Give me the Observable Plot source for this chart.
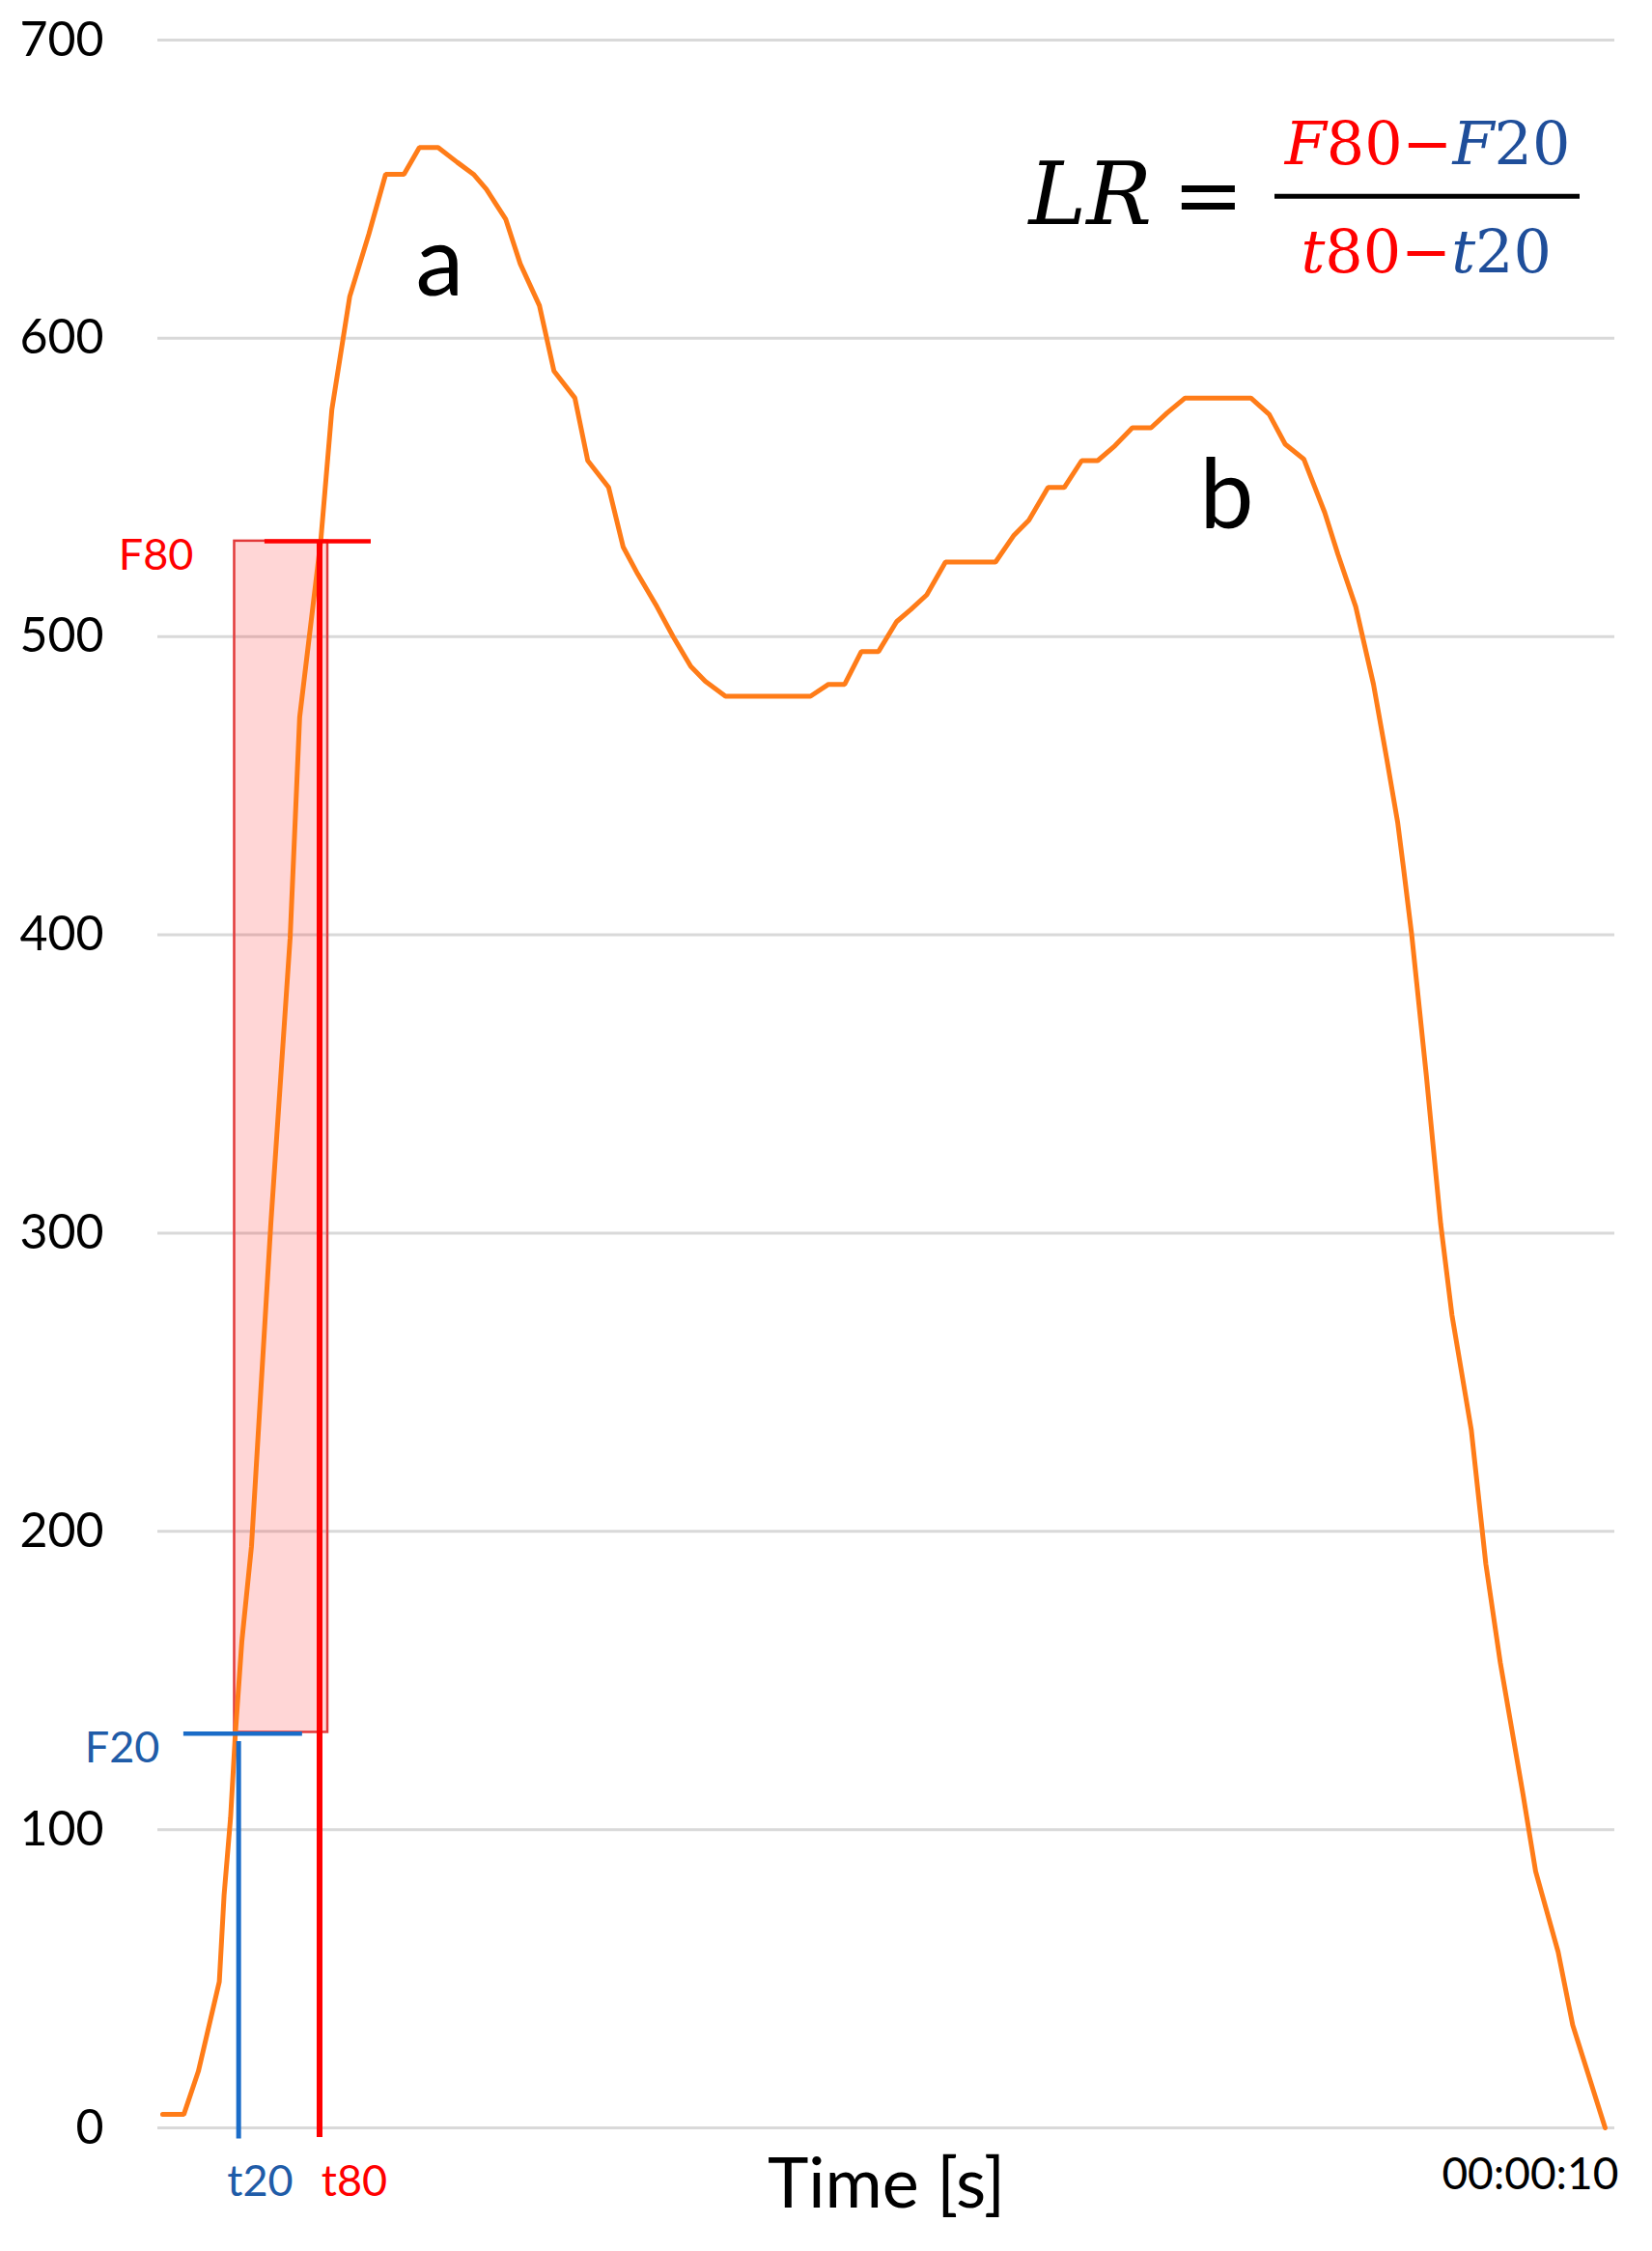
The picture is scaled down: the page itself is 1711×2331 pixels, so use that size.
<!DOCTYPE html>
<html>
<head>
<meta charset="utf-8">
<script src="https://cdn.jsdelivr.net/npm/d3@7"></script>
<script src="https://cdn.jsdelivr.net/npm/@observablehq/plot@0.6"></script>
<style>
  html, body { margin: 0; padding: 0; background: #fff; }
  #chart svg { display: block; }
</style>
</head>
<body>
<div id="chart"></div>
<script>
// ---- data (time in s, force) ----
const time = [0, 0.147, 0.248, 0.393, 0.426, 0.471, 0.504, 0.549, 0.616, 0.750, 0.884, 0.950, 1.096, 1.173, 1.297, 1.430, 1.546, 1.673, 1.780, 1.910, 2.043, 2.155, 2.244, 2.378, 2.479, 2.612, 2.713, 2.858, 2.947, 3.092, 3.193, 3.293, 3.427, 3.539, 3.661, 3.762, 3.902, 4.491, 4.616, 4.728, 4.844, 4.963, 5.088, 5.185, 5.297, 5.427, 5.774, 5.902, 6.005, 6.138, 6.250, 6.371, 6.482, 6.602, 6.722, 6.852, 6.963, 7.088, 7.544, 7.671, 7.782, 7.911, 8.056, 8.148, 8.271, 8.394, 8.486, 8.562, 8.603, 8.659, 8.760, 8.860, 8.938, 9.072, 9.173, 9.273, 9.430, 9.518, 9.674, 9.775, 10.0];
const force = [4.5, 4.5, 19, 49, 78, 104, 132, 163, 195, 303, 399, 473, 532, 576, 614, 635, 655, 655, 664, 664, 659, 655, 650, 640, 625, 611, 589, 580, 559, 550, 530, 521, 510, 500, 490, 485, 480, 480, 484, 484, 495, 495, 505, 509, 514, 525, 525, 534, 539, 550, 550, 559, 559, 564, 570, 570, 575, 580, 580, 574.5, 564.5, 559.5, 541.6, 527.5, 510, 484, 459, 437.6, 422, 400, 353, 303, 272.5, 234, 189, 156, 112, 86, 59, 34.5, 0];

const yTicks = [0, 100, 200, 300, 400, 500, 600, 700];
const xTicks = [10];
const xTickLabels = ["00:00:10"];
const xLabel = "Time [s]";

// LR markers
const F20 = 132.2, F80 = 532;
const t20 = 0.527, t80 = 1.088;
const f20Span = [0.147, 0.97];     // horizontal F20 marker extent (s)
const f80Span = [0.709, 1.446];    // horizontal F80 marker extent (s)
const t20Span = [-3.7, 129.5];     // vertical t20 marker extent (force)
const t80Span = [-3.2, F80];       // vertical t80 marker extent (force)
const rectBox = [{x1: 0.499, x2: 1.145, y1: 132.6, y2: F80}];

// annotations
const peakLabels = [{t: 1.921, f: 614.3, text: "a"}, {t: 7.376, f: 536.3, text: "b"}];
const levelLabelF80 = [{t: 0.214, f: 522.3, text: "F80"}];
const levelLabelF20 = [{t: -0.02, f: 122.4, text: "F20"}];
const timeLabelT80 = [{t: 1.329, f: -22.7, text: "t80"}];
const timeLabelT20 = [{t: 0.676, f: -22.7, text: "t20"}];
const formulaLeft = [{t: 6.004, f: 638.3, text: "LR"}];
const formulaEq = [{t: 7.249, f: 638.3, text: "="}];
const formulaNum = [{t: 8.769, f: 658.4, text: "F80\u2212F20"}];
const formulaDen = [{t: 8.76, f: 622.1, text: "t80\u2212t20"}];
const formulaBar = [{f: 647.6, x1: 7.711, x2: 9.826}];

const curve = time.map((t, i) => ({t, f: force[i]}));

const RED = "#ff0000", BLUE_LINE = "#1a6cc8", BLUE_TEXT = "#1f5ca8", BLUE_F = "#1f4e9a", ORANGE = "#ff7c18";

const chart = Plot.plot({
  width: 1711,
  height: 2331,
  marginLeft: 163,
  marginRight: 39,
  marginTop: 41,
  marginBottom: 128,
  x: {domain: [-0.033, 10.067], label: null},
  y: {domain: [0, 700], label: null},
  style: {fontFamily: "Lato, 'Open Sans', sans-serif", background: "#fff", color: "#000", overflow: "visible"},
  marks: [
    Plot.gridY(yTicks, {stroke: "#d9d9d9", strokeOpacity: 1, strokeWidth: 3}),
    Plot.axisY(yTicks, {tickSize: 0, tickPadding: 56, fontSize: 50, fill: "#000", tickFormat: d => String(d), label: null}),
    Plot.axisX(xTicks, {tickSize: 0, tickPadding: 31, fontSize: 46, fill: "#000", textAnchor: "end", dx: 14, tickFormat: (d, i) => xTickLabels[i], label: null}),
    Plot.text([xLabel], {frameAnchor: "bottom", dy: 82, lineAnchor: "bottom", fontSize: 72, fill: "#000"}),
    Plot.rect(rectBox, {x1: "x1", x2: "x2", y1: "y1", y2: "y2", fill: "red", fillOpacity: 0.16, stroke: "#e23a3a", strokeWidth: 2.5}),
    Plot.line(curve, {x: "t", y: "f", stroke: ORANGE, strokeWidth: 5, strokeLinejoin: "miter"}),
    Plot.ruleY([F20], {x1: f20Span[0], x2: f20Span[1], stroke: BLUE_LINE, strokeWidth: 4.5}),
    Plot.ruleX([t20], {y1: t20Span[0], y2: t20Span[1], stroke: BLUE_LINE, strokeWidth: 5}),
    Plot.ruleY([F80], {x1: f80Span[0], x2: f80Span[1], stroke: RED, strokeWidth: 4.5}),
    Plot.ruleX([t80], {y1: t80Span[0], y2: t80Span[1], stroke: RED, strokeWidth: 6}),
    Plot.text(levelLabelF80, {x: "t", y: "f", text: "text", textAnchor: "end", lineAnchor: "bottom", fontSize: 45, fill: RED}),
    Plot.text(levelLabelF20, {x: "t", y: "f", text: "text", textAnchor: "end", lineAnchor: "bottom", fontSize: 45, fill: BLUE_TEXT}),
    Plot.text(timeLabelT80, {x: "t", y: "f", text: "text", textAnchor: "middle", lineAnchor: "bottom", fontSize: 45, fill: RED}),
    Plot.text(timeLabelT20, {x: "t", y: "f", text: "text", textAnchor: "middle", lineAnchor: "bottom", fontSize: 45, fill: BLUE_TEXT}),
    Plot.text(peakLabels, {x: "t", y: "f", text: "text", lineAnchor: "bottom", fontSize: 100, fill: "#000"}),
    Plot.text(formulaLeft, {x: "t", y: "f", text: "text", textAnchor: "start", lineAnchor: "bottom", fontSize: 90, fontStyle: "italic", fontFamily: "'DejaVu Serif', serif", fill: "#000"}),
    Plot.text(formulaEq, {x: "t", y: "f", text: "text", lineAnchor: "bottom", fontSize: 88, fontFamily: "'DejaVu Serif', serif", fill: "#000"}),
    Plot.text(formulaNum, {x: "t", y: "f", text: "text", lineAnchor: "bottom", fontSize: 62, fontFamily: "'DejaVu Serif', serif", fill: "#000"}),
    Plot.text(formulaDen, {x: "t", y: "f", text: "text", lineAnchor: "bottom", fontSize: 62, fontFamily: "'DejaVu Serif', serif", fill: "#000"}),
    Plot.ruleY(formulaBar, {y: "f", x1: "x1", x2: "x2", stroke: "#000", strokeWidth: 5})
  ]
});

// colour / italicise the parts of the fraction
const rich = {
  "F80\u2212F20": [["F", RED, true], ["80", RED], ["\u2212", RED], ["F", BLUE_F, true], ["20", BLUE_F]],
  "t80\u2212t20": [["t", RED, true], ["80", RED], ["\u2212", RED], ["t", BLUE_F, true], ["20", BLUE_F]]
};
d3.select(chart).selectAll("text").each(function () {
  const parts = rich[this.textContent];
  if (!parts) return;
  const sel = d3.select(this);
  sel.text(null);
  parts.forEach(([s, c, it]) => sel.append("tspan").attr("fill", c).attr("font-style", it ? "italic" : "normal").text(s));
});

document.getElementById("chart").appendChild(chart);
</script>
</body>
</html>
